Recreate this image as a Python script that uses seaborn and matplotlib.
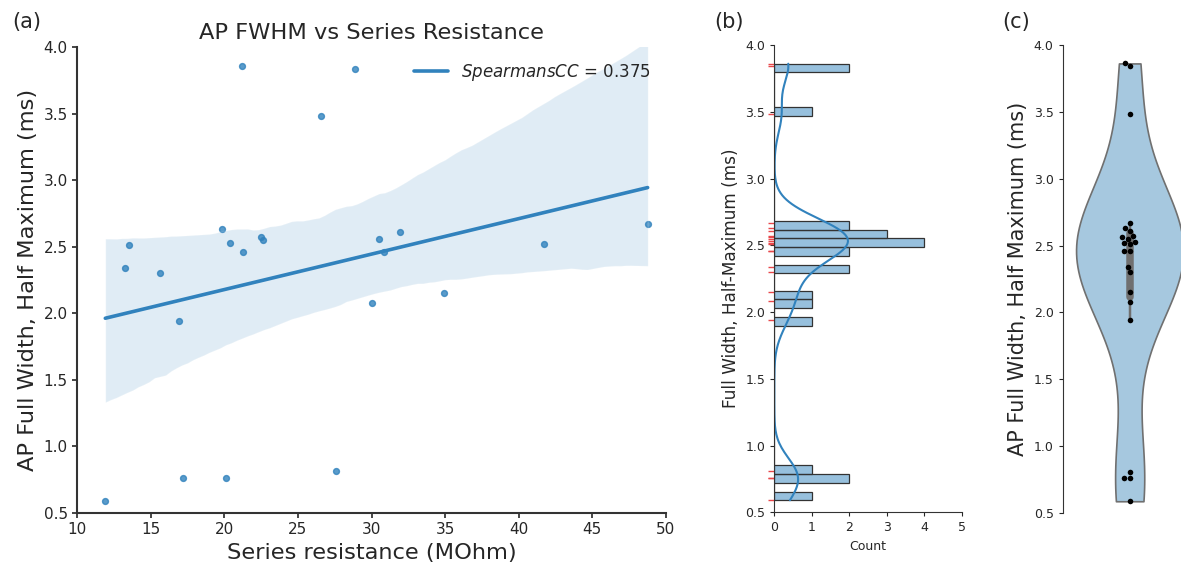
import numpy as np
import pandas as pd
import matplotlib
matplotlib.use("Agg")
import matplotlib.pyplot as plt
import seaborn as sns

# ==============================================================================
# DADOS
# ==============================================================================
series_resistance = [21.22, 28.86, 26.59, 19.84, 13.54, 20.36, 22.51, 22.65,
                     21.27, 13.26, 15.62, 16.89, 11.90, 17.21, 20.09, 27.59,
                     48.77, 31.94, 30.49, 30.85, 41.73, 30.03, 34.93]
ap_fwhm = [3.86, 3.84, 3.48, 2.63, 2.51, 2.53, 2.57, 2.55,
           2.46, 2.34, 2.30, 1.94, 0.59, 0.76, 0.76, 0.81,
           2.67, 2.61, 2.56, 2.46, 2.52, 2.08, 2.15]
spearman_cc = 0.375

df = pd.DataFrame({"rs": series_resistance, "fwhm": ap_fwhm})

blue = "#3182bd"

# ==============================================================================
# ESTILO
# ==============================================================================
sns.set_style("ticks")
plt.rcParams["font.family"] = ["DejaVu Sans"]
plt.rcParams["axes.edgecolor"] = "#333333"

fig = plt.figure(figsize=(11.81, 5.67), dpi=100)
ax_a = fig.add_axes([0.0655, 0.0958, 0.4982, 0.8208])
ax_b = fig.add_axes([0.6556, 0.0965, 0.1587, 0.8241])
ax_c = fig.add_axes([0.8998, 0.0947, 0.1135, 0.8265])

# ------------------------------------------------------------------------------
# (a) regressão
# ------------------------------------------------------------------------------
sns.regplot(data=df, x="rs", y="fwhm", ax=ax_a, color=blue, seed=3,
            scatter_kws={"s": 18},
            line_kws={"lw": 2.6, "label": f"$SpearmansCC$ = {spearman_cc:.3f}"})
ax_a.set_xlim(10, 50)
ax_a.set_ylim(0.5, 4.0)
ax_a.set_xlabel("Series resistance (MOhm)", fontsize=16.2)
ax_a.set_ylabel("AP Full Width, Half Maximum (ms)", fontsize=16.2)
ax_a.set_title("AP FWHM vs Series Resistance", fontsize=16.2)
ax_a.tick_params(labelsize=11, width=1.2)
for s in ["left", "bottom"]:
    ax_a.spines[s].set_linewidth(1.5)
ax_a.legend(loc="upper right", frameon=False, fontsize=12)
sns.despine(ax=ax_a)

# ------------------------------------------------------------------------------
# (b) histograma
# ------------------------------------------------------------------------------
sns.histplot(data=df, y="fwhm", bins=50, kde=True, ax=ax_b, color=blue,
             alpha=0.5, edgecolor="#333333", linewidth=0.9,
             kde_kws={"bw_adjust": 0.3}, line_kws={"lw": 1.5})
sns.rugplot(data=df, y="fwhm", ax=ax_b, height=-0.035, clip_on=False,
            color="#e8474a", lw=1.2)
ax_b.set_xlim(0, 5)
ax_b.set_ylim(0.5, 4.0)
ax_b.set_xticks([0, 1, 2, 3, 4, 5])
ax_b.set_xlabel("Count", fontsize=9)
ax_b.set_ylabel("Full Width, Half-Maximum (ms)", fontsize=12.2)
ax_b.tick_params(labelsize=9, length=3)
sns.despine(ax=ax_b)

# ------------------------------------------------------------------------------
# (c) violino
# ------------------------------------------------------------------------------
sns.violinplot(data=df, y="fwhm", ax=ax_c, cut=0, color="#a6c8df",
               saturation=1, linecolor="#707070", linewidth=1.2)
sns.swarmplot(data=df, y="fwhm", ax=ax_c, color="black", size=4)
ax_c.set_xlim(-0.5, 0.5)
ax_c.set_ylim(0.5, 4.0)
ax_c.set_xticks([])
ax_c.set_xlabel("")
ax_c.set_ylabel("AP Full Width, Half Maximum (ms)", fontsize=15)
ax_c.tick_params(labelsize=9, length=3)
sns.despine(ax=ax_c, bottom=True)

fig.text(0.010, 0.962, "(a)", fontsize=15, va="center")
fig.text(0.605, 0.962, "(b)", fontsize=15, va="center")
fig.text(0.849, 0.962, "(c)", fontsize=15, va="center")

fig.savefig("out.png", dpi=100)
